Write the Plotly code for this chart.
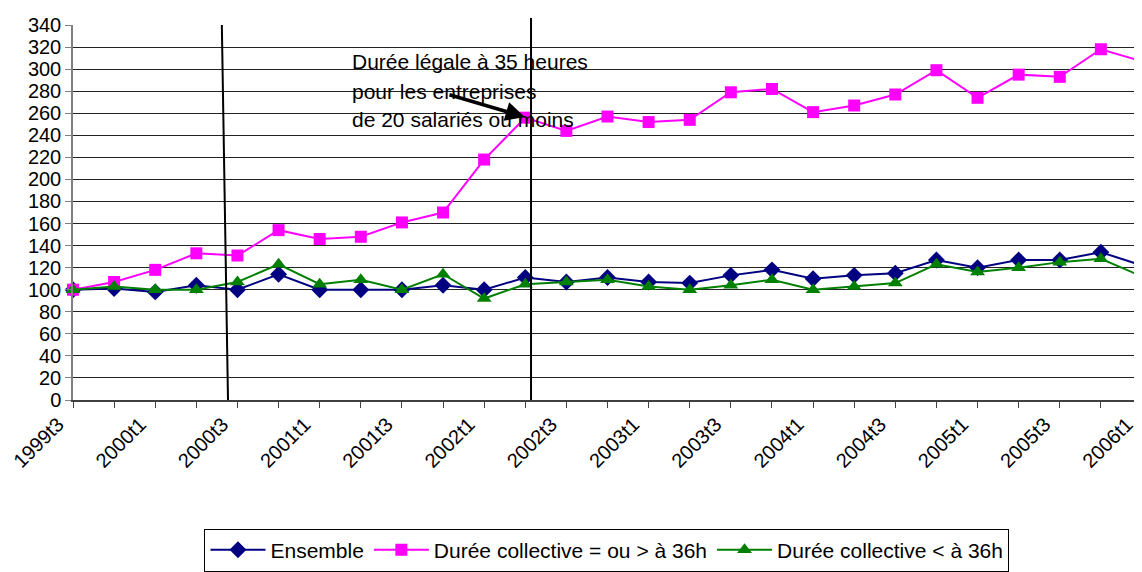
import plotly.graph_objects as go

quarters = ["1999t3", "1999t4", "2000t1", "2000t2", "2000t3", "2000t4", "2001t1", "2001t2",
            "2001t3", "2001t4", "2002t1", "2002t2", "2002t3", "2002t4", "2003t1", "2003t2",
            "2003t3", "2003t4", "2004t1", "2004t2", "2004t3", "2004t4", "2005t1", "2005t2",
            "2005t3", "2005t4", "2006t1"]

ensemble = [100, 101, 98, 104, 100, 114, 100, 100, 100, 104, 100, 111, 107, 111, 107, 106,
            113, 118, 110, 113, 115, 127, 120, 127, 127, 134, 122]
duree_sup36 = [100, 107, 118, 133, 131, 154, 146, 148, 161, 170, 218, 256, 244, 257, 252, 254,
               279, 282, 261, 267, 277, 299, 274, 295, 293, 318, 307]
duree_inf36 = [100, 103, 100, 100, 107, 123, 105, 109, 100, 114, 92, 105, 107, 109, 103, 100,
               104, 109, 100, 103, 106, 123, 116, 120, 125, 128, 112]

tick_labels = ["1999t3", "2000t1", "2000t3", "2001t1", "2001t3", "2002t1", "2002t3",
               "2003t1", "2003t3", "2004t1", "2004t3", "2005t1", "2005t3", "2006t1"]

y_ticks = list(range(0, 341, 20))

FONT = "Liberation Sans, Arial, sans-serif"

x_idx = list(range(len(quarters)))
ticktext = [q if q in tick_labels else "" for q in quarters]

fig = go.Figure()
fig.add_trace(go.Scatter(
    x=x_idx, y=ensemble, name="Ensemble", mode="lines+markers",
    line=dict(color="#000080", width=2),
    marker=dict(symbol="diamond", size=13, color="#000080"),
    cliponaxis=False))
fig.add_trace(go.Scatter(
    x=x_idx, y=duree_sup36, name="Durée collective = ou > à 36h", mode="lines+markers",
    line=dict(color="#FF00FF", width=2),
    marker=dict(symbol="square", size=12, color="#FF00FF"),
    cliponaxis=False))
fig.add_trace(go.Scatter(
    x=x_idx, y=duree_inf36, name="Durée collective < à 36h", mode="lines+markers",
    line=dict(color="#008000", width=2),
    marker=dict(symbol="triangle-up", size=13, color="#008000"),
    cliponaxis=False))

n_last = len(quarters) - 1

# event lines (paper coordinates derived from category index)
ev1_top, ev1_bot = 3.62, 3.77
ev2 = 11.14
fig.add_shape(type="line", xref="paper", yref="paper",
              x0=ev1_top / n_last, y0=1.0, x1=ev1_bot / n_last, y1=0.0,
              line=dict(color="black", width=2))
fig.add_shape(type="line", xref="paper", yref="paper",
              x0=ev2 / n_last, y0=1.019, x1=ev2 / n_last, y1=0.0,
              line=dict(color="black", width=2))

ann_lines = ["Durée légale à 35 heures", "pour les entreprises", "de 20 salariés ou moins"]
ann_y = [306.8, 280.0, 253.9]
for txt, yy in zip(ann_lines, ann_y):
    fig.add_annotation(x=6.74, y=yy, xref="x", yref="y", text=txt, showarrow=False,
                       xanchor="left", yanchor="middle",
                       font=dict(family=FONT, size=21, color="black"))

fig.add_annotation(x=10.99, y=256.6, ax=9.12, ay=277.2, xref="x", yref="y",
                   axref="x", ayref="y", text="", showarrow=True,
                   arrowhead=2, arrowsize=1.1, arrowwidth=3.5, arrowcolor="black")

# the page body adds an 8px offset, so the figure is sized to fill the 1142x572 window
fig.update_layout(
    width=1134, height=564,
    margin=dict(l=65, r=0, t=17, b=168),
    template="none",
    plot_bgcolor="white", paper_bgcolor="white",
    font=dict(family=FONT, size=20, color="black"),
    showlegend=True,
    legend=dict(orientation="h", x=0.4995, xanchor="center", y=-0.343, yanchor="top",
                bordercolor="black", borderwidth=1, bgcolor="white",
                font=dict(family=FONT, size=21, color="black"),
                itemwidth=55, tracegroupgap=0),
)
fig.update_xaxes(
    range=[0, n_last], tickmode="array", tickvals=x_idx, ticktext=ticktext,
    tickangle=-45, ticks="outside", ticklen=6, tickcolor="#404040",
    showline=True, linecolor="#404040", linewidth=1.5,
    showgrid=False, zeroline=False, automargin=False,
    ticklabeloverflow="allow", ticklabelshift=-15, ticklabelstandoff=-3,
    tickfont=dict(family=FONT, size=20, color="black"))
fig.update_yaxes(
    range=[0, 340], tickmode="array", tickvals=y_ticks,
    ticks="outside", ticklen=6, tickcolor="#808080",
    showline=True, linecolor="#808080", linewidth=1.5,
    showgrid=True, gridcolor="#222222", gridwidth=1,
    zeroline=False, automargin=False,
    tickfont=dict(family=FONT, size=20, color="black"))

fig.write_html("out.html")
